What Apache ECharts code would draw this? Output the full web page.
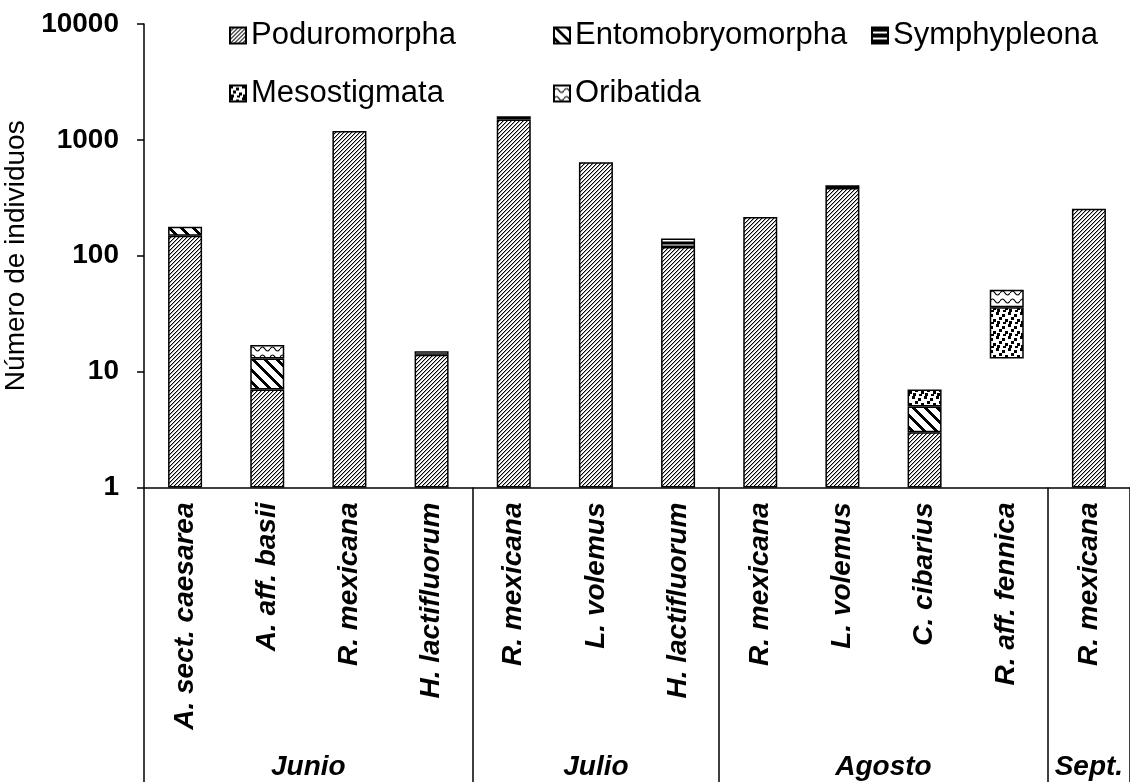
<!DOCTYPE html>
<html><head><meta charset="utf-8">
<script src="https://cdn.jsdelivr.net/npm/echarts@6/dist/echarts.min.js"></script>
<style>html,body{margin:0;padding:0;background:#fff}#c{width:1130px;height:782px}</style>
</head><body><div id="c"></div>
<script>
// ---- data ----
const categories = ['A. sect. caesarea','A. aff. basii','R. mexicana','H. lactifluorum','R. mexicana','L. volemus','H. lactifluorum','R. mexicana','L. volemus','C. cibarius','R. aff. fennica','R. mexicana'];
const months = ['Junio','Julio','Agosto','Sept.'];
const monthSizes = [4,3,4,1];
const hiddenBase       = [null,null,null,null,null,null,null,null,null,null,13,null];
const poduromorpha     = [149,7,1190,14,1500,640,119,216,385,3,null,255];
const entomobryomorpha = [29,6,null,null,null,null,null,null,null,2,null,null];
const symphypleona     = [null,null,null,1,100,null,10,null,20,null,null,null];
const mesostigmata     = [null,null,null,null,null,null,null,null,null,2,23,null];
const oribatida        = [null,4,null,null,null,null,12,null,null,null,15,null];

// ---- patterns ----
function makePattern(w,h,draw){const c=document.createElement('canvas');c.width=w;c.height=h;const g=c.getContext('2d');g.fillStyle='#fff';g.fillRect(0,0,w,h);g.fillStyle='#000';g.strokeStyle='#000';draw(g,w,h);return {image:c,repeat:'repeat'};}
const patPodu = makePattern(4,4,(g)=>{for(let i=0;i<4;i++){g.fillRect(3-i,i,1,1);} g.globalAlpha=0.35; for(let i=0;i<4;i++){g.fillRect((4-i)%4,i,1,1);} });
const patEnto = makePattern(12,12,(g)=>{for(let y=0;y<12;y++)for(let x=0;x<12;x++){if(((x-y)%12+12)%12<4)g.fillRect(x,y,1,1);}});
const patSymp = makePattern(6,6,(g)=>{g.fillRect(0,0,6,4);});
const patMeso = makePattern(12,12,(g)=>{[[0,0],[6,2],[3,5],[9,7],[1,9],[7,10]].forEach(p=>g.fillRect(p[0],p[1],3,3));});
const patOrib = makePattern(10,8,(g)=>{g.lineWidth=1.2;g.beginPath();g.moveTo(0,5);g.quadraticCurveTo(2.5,1,5,5);g.quadraticCurveTo(7.5,9,10,5);g.stroke();});

// ---- derived ----
const boundaries=[];let acc=0;const monthCenters=[];
monthSizes.forEach(s=>{boundaries.push(acc);monthCenters.push(acc+s/2);acc+=s;});
const FONT='"Liberation Sans", Arial, sans-serif';
const txt={color:'#000',fontFamily:FONT};
const BW=34;

function barSeries(name,data,pattern,stacked){
  const s={name,type:'bar',data,barWidth:BW,barGap:'-100%',
    itemStyle:{color:pattern,borderColor:'#000',borderWidth:1.5},
    emphasis:{disabled:true}};
  if(stacked) s.stack='total';
  return s;
}
function hidden(name,data){
  return {name,type:'bar',stack:'total',data,barWidth:BW,barGap:'-100%',silent:true,
    itemStyle:{color:'rgba(0,0,0,0)',borderWidth:0},emphasis:{disabled:true}};
}
function leg(name,left,top){
  return {data:[name],left,top,padding:0,itemWidth:16,itemHeight:16,icon:'rect',
    selectedMode:false,textStyle:Object.assign({fontSize:31},txt)};
}

const chart=echarts.init(document.getElementById('c'),null,{renderer:'canvas'});
chart.setOption({
  animation:false,
  backgroundColor:'#fff',
  legend:[leg('Poduromorpha',229,20),leg('Entomobryomorpha',553,20),leg('Symphypleona',871,20),
          leg('Mesostigmata',229,78),leg('Oribatida',553,78)],
  grid:{left:144,right:0,top:24,bottom:294.5,containLabel:false,outerBoundsMode:'none'},
  xAxis:[{
    type:'category',data:categories,position:'bottom',
    axisLine:{lineStyle:{color:'#000',width:1.5}},
    axisTick:{show:true,interval:(i)=>boundaries.indexOf(i)>=0,length:294.5,lineStyle:{color:'#000',width:1.5}},
    axisLabel:Object.assign({interval:0,rotate:90,margin:15,fontSize:28,fontWeight:'bold',fontStyle:'italic'},txt),
    splitLine:{show:false}
  },{
    type:'value',min:0,max:12,interval:0.5,position:'bottom',
    axisLine:{show:false},axisTick:{show:false},splitLine:{show:false},
    axisLabel:Object.assign({margin:266,fontSize:28,fontWeight:'bold',fontStyle:'italic',
      formatter:(v)=>{const k=monthCenters.indexOf(v);return k>=0?months[k]:'';}},txt)
  }],
  yAxis:{
    type:'log',logBase:10,min:1,max:10000,
    name:'Número de individuos',nameLocation:'middle',nameGap:106,nameRotate:90,
    nameTextStyle:Object.assign({fontSize:28},txt),
    axisLine:{show:true,lineStyle:{color:'#000',width:1.5}},
    axisTick:{show:true,inside:false,length:7,lineStyle:{color:'#000',width:1.5}},
    minorTick:{show:false},
    axisLabel:Object.assign({margin:25,fontSize:28,fontWeight:'bold',formatter:(v)=>String(Math.round(v))},txt),
    splitLine:{show:false}
  },
  series:[
    hidden('base',hiddenBase),
    hidden('stackPoduromorpha',poduromorpha),
    barSeries('Entomobryomorpha',entomobryomorpha,patEnto,true),
    barSeries('Symphypleona',symphypleona,patSymp,true),
    barSeries('Mesostigmata',mesostigmata,patMeso,true),
    barSeries('Oribatida',oribatida,patOrib,true),
    barSeries('Poduromorpha',poduromorpha,patPodu,false)
  ]
});
</script></body></html>
